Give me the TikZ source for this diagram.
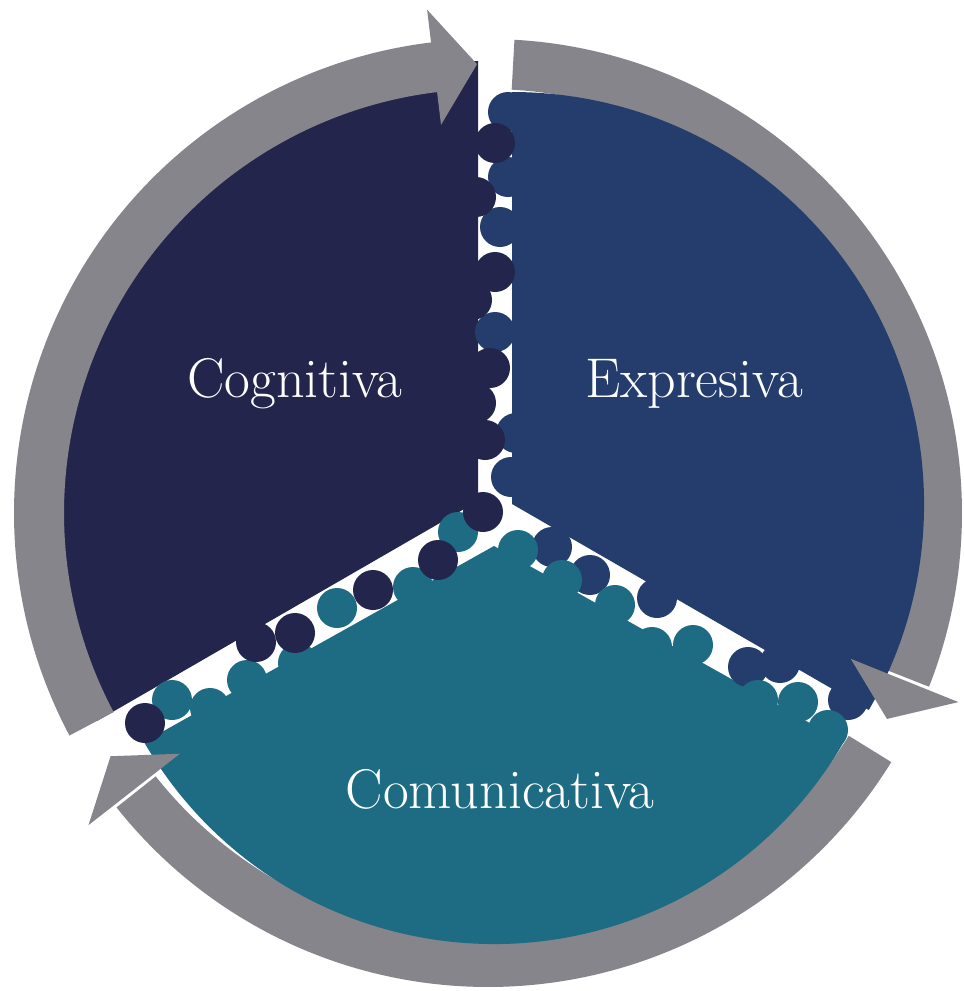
\documentclass[tikz,border=0pt]{standalone}
\usepackage{fontspec}
\definecolor{cogc}{RGB}{36,37,77}
\definecolor{expc}{RGB}{37,61,108}
\definecolor{comc}{RGB}{30,108,131}
\definecolor{arrc}{RGB}{134,133,139}
\begin{document}
\begin{tikzpicture}[x=1pt,y=1pt,
  arrowbody/.style={fill=arrc},
  cogknob/.style={fill=cogc},
  expknob/.style={fill=expc},
  comknob/.style={fill=comc},
  lbl/.style={text=white,font=\fontsize{56}{56}\selectfont,anchor=base,inner sep=0pt}]
\fill[white] (0,0) rectangle (964,-991);
\useasboundingbox (0,0) rectangle (964,-991);
% arrow bodies 2 and 3 (behind sectors)
\begin{scope}[shift={(488,-513)}]
\fill[arrowbody] (86.8:474) arc[start angle=86.8,end angle=-21.5,radius=474] -- (-21.5:424) arc[start angle=-21.5,end angle=86.8,radius=424] -- cycle;
\fill[arrowbody] (-31.7:474) arc[start angle=-31.7,end angle=-141.6,radius=474] -- (-141.6:424) arc[start angle=-141.6,end angle=-31.7,radius=424] -- cycle;
\end{scope}
% sectors
\fill[cogc] (478,-501) -- ++(90:440) arc[start angle=90,end angle=210,radius=440] -- cycle;
\fill[expc] (512,-504) -- ++(-30:412) arc[start angle=-30,end angle=90,radius=412] -- cycle;
\fill[comc] (494,-546) -- (144,-742) arc[start angle=210,end angle=330,radius=404] -- cycle;
% arrow body 1 (over the Cognitiva sector)
\begin{scope}[shift={(488,-513)}]
\fill[arrowbody] (208:474) arc[start angle=208,end angle=96.5,radius=474] -- (96.5:424) arc[start angle=96.5,end angle=208,radius=424] -- cycle;
\end{scope}
% knobs
\foreach \x/\y in {508/112,508/177,500/227,495/332,516/433,511/477,
                   552/547,590/575,657/598,748/667,780/663,848/700}
  \fill[expknob] (\x,-\y) circle[radius=20];
\foreach \x/\y in {172/700,210/708,247/680,298/663,337/608,413/587,458/532,
                   518/550,562/580,615/605,652/647,693/645,758/700,798/702,828/730}
  \fill[comknob] (\x,-\y) circle[radius=20];
\foreach \x/\y in {495/143,476/197,495/272,472/300,490/368,476/403,485/440,483/512,
                   145/723,256/642,295/633,373/590,438/560}
  \fill[cogknob] (\x,-\y) circle[radius=20];
% arrow heads (on top)
\begin{scope}[shift={(488,-513)}]
\fill[arrowbody] (96.9:507) -- (91.4:449) -- (96.9:391) -- cycle;
\fill[arrowbody] (-21.9:507) -- (-27.3:449) -- (-21.9:391) -- cycle;
\fill[arrowbody] (-142:507) -- (-147.2:449) -- (-142:391) -- cycle;
\end{scope}
% labels
\node[lbl] (cog) at (295,-397) {Cognitiva};
\node[lbl] (exp) at (694,-397) {Expresiva};
\node[lbl] (com) at (500,-808) {Comunicativa};
\end{tikzpicture}
\end{document}
